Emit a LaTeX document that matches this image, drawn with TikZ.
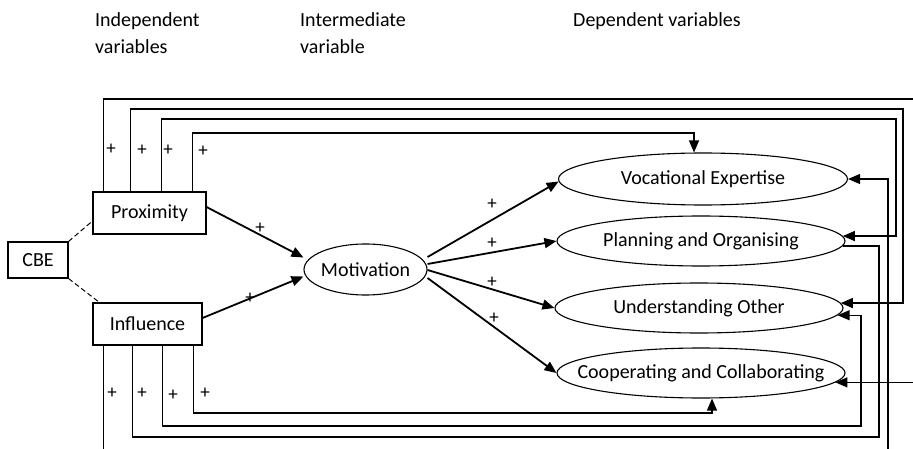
\documentclass[tikz,border=0pt]{standalone}
\usepackage{fontspec}
\setmainfont{Carlito}
\usetikzlibrary{arrows.meta,shapes.geometric}
\begin{document}
\begin{tikzpicture}[x=1pt,y=-1pt,
  every node/.style={font=\fontsize{20}{27}\selectfont, inner sep=0pt},
  box/.style={draw, rectangle, line width=1.1pt},
  ell/.style={draw, ellipse, line width=1.1pt},
  head/.style={anchor=north west, align=left},
  link/.style={line width=1.2pt},
  arr/.style={link, -{Triangle[length=12pt,width=10pt]}},
  marr/.style={line width=1.8pt, -{Triangle[length=12pt,width=10pt]}},
  plus/.style={font=\fontsize{19}{19}\selectfont},
  dashlink/.style={line width=1pt, dash pattern=on 5pt off 3pt}]
\useasboundingbox (0,0) rectangle (913,449);
\clip (0,0) rectangle (913,449);

% headers
\node[head] (h1) at (95,12) {Independent\\variables};
\node[head] (h2) at (300,12) {Intermediate\\variable};
\node[head] (h3) at (573,12) {Dependent variables};

% boxes
\node[box, minimum width=60pt, minimum height=36pt] (cbe) at (38,260) {CBE};
\node[box, minimum width=113pt, minimum height=42pt] (prox) at (149.5,213) {Proximity};
\node[box, minimum width=109pt, minimum height=42pt] (inf) at (147.5,324) {Influence};

% ellipses
\node[ell, minimum width=123pt, minimum height=51pt, label={center:Motivation}] (mot) at (365.5,269.5) {};
\node[ell, minimum width=289pt, minimum height=52pt, label={center:Vocational Expertise}] (ve) at (703,179) {};
\node[ell, minimum width=288pt, minimum height=50pt, label={center:Planning and Organising}] (po) at (701,241) {};
\node[ell, minimum width=288pt, minimum height=50pt, label={center:Understanding Other}] (uo) at (699,308) {};
\node[ell, minimum width=288pt, minimum height=50pt, label={center:Cooperating and Collaborating}] (cc) at (701,373) {};

% dashed links
\draw[dashlink] (cbe.north east) -- ([yshift=-8pt]prox.west);
\draw[dashlink] (cbe.south east) -- ([xshift=7pt]inf.north west);

% to motivation
\draw[marr] ([yshift=6pt]prox.east) -- ([yshift=12pt]mot.west);
\draw[marr] ([yshift=6pt]inf.east) -- ([yshift=-7pt]mot.west);
\node[plus] (pa) at (260,228) {+};
\node[plus] (pb) at (250,298) {+};

% from motivation
\draw[marr] ([yshift=12.5pt]mot.east) -- (ve.181.6);
\draw[marr] ([yshift=5.5pt]mot.east) -- (po.west);
\draw[marr] ([yshift=-0.5pt]mot.east) -- (uo.west);
\draw[marr] ([yshift=-8.5pt]mot.east) -- (cc.west);
\node[plus] (m1) at (492,204) {+};
\node[plus] (m2) at (492,243) {+};
\node[plus] (m3) at (492,282) {+};
\node[plus] (m4) at (494,318) {+};

% proximity feedback routes
\draw[arr] ([xshift=11pt]prox.north west) |- (940,99) |- (cc.-4.3);
\draw[arr] ([xshift=38pt]prox.north west) |- (903,109) |- (uo.2);
\draw[arr] ([xshift=69pt]prox.north west) |- (896,119) |- (po.2.5);
\draw[arr] ([xshift=100pt]prox.north west) |- (694,133) -- (ve.north -| 694,0);
\node[plus] (t1) at (111,149) {+};
\node[plus] (t2) at (142,150) {+};
\node[plus] (t3) at (168,150) {+};
\node[plus] (t4) at (203,151) {+};

% influence routes
\draw[arr] ([xshift=11pt]inf.south west) |- (888,470) |- (ve.-0.8);
\draw[link] (po.-2) -| (879,437) -| ([xshift=40pt]inf.south west);
\draw[arr] ([xshift=70pt]inf.south west) |- (861,426) |- (uo.-3.8);
\draw[arr] ([xshift=101pt]inf.south west) |- (712,413) -- (cc.south -| 712,0);
\node[plus] (b1) at (112,393) {+};
\node[plus] (b2) at (142,393) {+};
\node[plus] (b3) at (173,395) {+};
\node[plus] (b4) at (205,393) {+};
\end{tikzpicture}
\end{document}
